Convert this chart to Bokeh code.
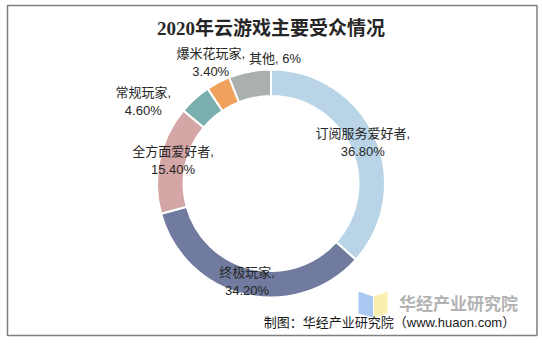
import math
from bokeh.plotting import figure
from bokeh.models import Range1d
from bokeh.core.properties import value
from bokeh.embed import file_html
from bokeh.resources import INLINE

# ---------------- data ----------------
title_text = "2020年云游戏主要受众情况"
categories = ["订阅服务爱好者", "终极玩家", "全方面爱好者", "常规玩家", "爆米花玩家", "其他"]
shares = [36.8, 34.2, 15.4, 4.6, 3.4, 6.0]
share_labels = ["36.80%", "34.20%", "15.40%", "4.60%", "3.40%", "6%"]
source_text = "制图：华经产业研究院（www.huaon.com）"
watermark_text = "华经产业研究院"

# ---------------- styles / layout ----------------
colors = ["#B8D4E6", "#717B9F", "#D4A6A6", "#7BAFAF", "#F0A15C", "#AAAFAF"]
W, H = 542, 343
CX, CY = 270.5, H - 183.0
R_OUT, R_IN = 114.0, 87.5
# per-label placement: (radius, angle shift in degrees clockwise), single-line flag
label_radius = [100.5, 101.0, 100.5, 152.0, 135.0, 125.0]
label_shift = [0.0, 0.5, 0.8, -15.2, 1.1, 12.6]
single_line = [False, False, False, False, False, True]
LINE_GAP = 18.0
FONT = "Liberation Sans, Noto Sans CJK SC"

p = figure(width=W, height=H, x_range=Range1d(0, W), y_range=Range1d(0, H),
           output_backend="svg", toolbar_location=None,
           x_axis_location=None, y_axis_location=None, min_border=0)
p.grid.visible = False
p.outline_line_color = None
p.background_fill_color = "white"
p.border_fill_color = "white"

# outer frame
p.quad(left=[7], right=[536.5], top=[H - 5], bottom=[H - 335],
       fill_color=None, line_color="#7F7F7F", line_width=1.5)

# donut
total = sum(shares)
starts, ends, mids = [], [], []
cum = 0.0
for s in shares:
    a0 = math.pi / 2 - 2 * math.pi * cum / total
    cum += s
    a1 = math.pi / 2 - 2 * math.pi * cum / total
    starts.append(a0)
    ends.append(a1)
    mids.append((a0 + a1) / 2)

p.annular_wedge(x=[CX] * len(shares), y=[CY] * len(shares),
                inner_radius=R_IN, outer_radius=R_OUT,
                start_angle=starts, end_angle=ends, direction="clock",
                fill_color=colors, line_color="white", line_width=2)

# labels
tx, ty, tt = [], [], []
for i, cat in enumerate(categories):
    ang = mids[i] - math.radians(label_shift[i])
    lx = CX + label_radius[i] * math.cos(ang)
    ly = CY + label_radius[i] * math.sin(ang)
    if single_line[i]:
        tx.append(lx); ty.append(ly); tt.append(f"{cat}, {share_labels[i]}")
    else:
        tx += [lx, lx]
        ty += [ly + LINE_GAP / 2, ly - LINE_GAP / 2]
        tt += [cat + ",", share_labels[i]]
p.text(x=tx, y=ty, text=tt, text_font=value(FONT), text_font_size="13px",
       text_color="#262626", text_align="center", text_baseline="middle")

# title
p.text(x=[270.5], y=[H - 28], text=[title_text],
       text_font=value("Liberation Serif, Noto Sans CJK SC"), text_font_size="19px",
       text_font_style="bold", text_color="#262626",
       text_align="center", text_baseline="middle")

# watermark logo (open book)
p.patches(xs=[[358, 372.5, 372.5, 358], [373.5, 387, 387, 373.5]],
          ys=[[H - 291, H - 296, H - 317, H - 313], [H - 296, H - 291, H - 313, H - 317]],
          fill_color=["#A9C9F2", "#FBEFB0"], line_color=None)
p.text(x=[458], y=[H - 302], text=[watermark_text],
       text_font=value("Noto Sans CJK SC"), text_font_size="17px",
       text_font_style="bold", text_color="#B3B3B3",
       text_align="center", text_baseline="middle")

# source
p.text(x=[389], y=[H - 322], text=[source_text],
       text_font=value(FONT), text_font_size="13px", text_color="#1A1A1A",
       text_align="center", text_baseline="middle")

open("out.html", "w").write(file_html(p, INLINE))
